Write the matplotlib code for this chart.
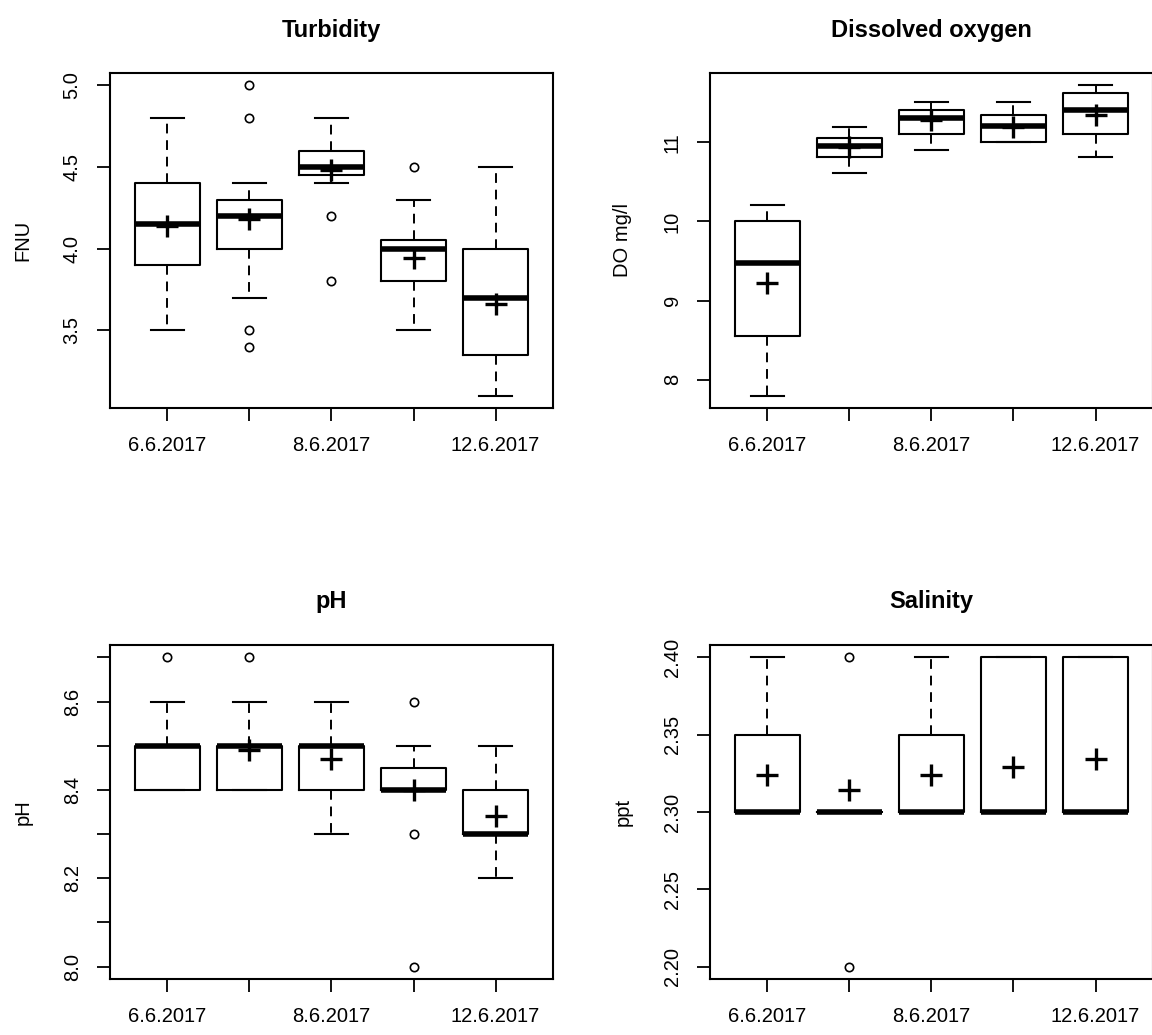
import numpy as np
import matplotlib.pyplot as plt

plt.rcParams['font.family'] = ['Liberation Sans', 'DejaVu Sans']

# only every other date label fits under the boxes
dates = ['6.6.2017', '', '8.6.2017', '', '12.6.2017']

turb_lo = [3.5, 3.7, 4.4, 3.5, 3.1]
turb_q1 = [3.9, 4.0, 4.45, 3.8, 3.35]
turb_med = [4.15, 4.2, 4.5, 4.0, 3.7]
turb_q3 = [4.4, 4.3, 4.6, 4.05, 4.0]
turb_hi = [4.8, 4.4, 4.8, 4.3, 4.5]
turb_mean = [4.14, 4.18, 4.48, 3.94, 3.66]
turb_out = [[], [5.0, 4.8, 3.5, 3.4], [4.2, 3.8], [4.5], []]

do_lo = [7.8, 10.61, 10.9, 11.0, 10.82]
do_q1 = [8.55, 10.82, 11.1, 11.0, 11.1]
do_med = [9.47, 10.96, 11.31, 11.21, 11.41]
do_q3 = [10.0, 11.06, 11.41, 11.35, 11.62]
do_hi = [10.21, 11.2, 11.51, 11.51, 11.72]
do_mean = [9.22, 10.945, 11.28, 11.2, 11.35]
do_out = [[], [], [], [], []]

ph_lo = [8.4, 8.4, 8.3, 8.4, 8.2]
ph_q1 = [8.4, 8.4, 8.4, 8.4, 8.3]
ph_med = [8.5, 8.5, 8.5, 8.4, 8.3]
ph_q3 = [8.5, 8.5, 8.5, 8.45, 8.4]
ph_hi = [8.6, 8.6, 8.6, 8.5, 8.5]
ph_mean = [np.nan, 8.49, 8.47, 8.4, 8.342]
ph_out = [[8.7], [8.7], [], [8.6, 8.3, 8.0], []]

sal_lo = [2.3, 2.3, 2.3, 2.3, 2.3]
sal_q1 = [2.3, 2.3, 2.3, 2.3, 2.3]
sal_med = [2.3, 2.3, 2.3, 2.3, 2.3]
sal_q3 = [2.35, 2.3, 2.35, 2.4, 2.4]
sal_hi = [2.4, 2.3, 2.4, 2.4, 2.4]
sal_mean = [2.324, 2.314, 2.324, 2.329, 2.334]
sal_out = [[], [2.4, 2.2], [], [], []]

turb_ticks = [3.5, 4.0, 4.5, 5.0]
turb_labels = ['3.5', '4.0', '4.5', '5.0']
do_ticks = [8, 9, 10, 11]
do_labels = ['8', '9', '10', '11']
ph_ticks = [8.0, 8.1, 8.2, 8.3, 8.4, 8.5, 8.6, 8.7]
ph_labels = ['8.0', '', '8.2', '', '8.4', '', '8.6', '']
sal_ticks = [2.20, 2.25, 2.30, 2.35, 2.40]
sal_labels = ['2.20', '2.25', '2.30', '2.35', '2.40']


def panel(ax, lo, q1, med, q3, hi, means, out, title, ylab, yticks, ylabels, tpad):
    pos = np.arange(1, len(med) + 1)
    stats = []
    for i in range(len(med)):
        stats.append(dict(whislo=lo[i], q1=q1[i], med=med[i], q3=q3[i],
                          whishi=hi[i], fliers=out[i]))
    ax.bxp(stats, positions=pos, widths=0.8, capwidths=0.4,
           boxprops=dict(color='black', linewidth=1.5),
           whiskerprops=dict(color='black', linewidth=1.4, linestyle=(0, (5, 3.5))),
           capprops=dict(color='black', linewidth=1.5),
           medianprops=dict(color='black', linewidth=4, solid_capstyle='butt'),
           flierprops=dict(marker='o', markerfacecolor='none', markeredgecolor='black',
                           markersize=6, markeredgewidth=1.2, linestyle='none'))
    ax.plot(pos, means, linestyle='none', marker='+', color='black',
            markersize=16, markeredgewidth=2.4, zorder=5)

    vals = list(lo) + list(hi) + [v for o in out for v in o]
    mn, mx = min(vals), max(vals)
    ext = 0.04 * (mx - mn)
    ax.set_ylim(mn - ext, mx + ext)
    ax.set_xlim(0.3, len(med) + 0.7)

    ax.set_xticks(pos)
    ax.set_xticklabels(dates)
    ax.set_yticks(yticks)
    ax.set_yticklabels(ylabels, rotation=90, va='center')
    ax.tick_params(length=9.4, width=1.3, labelsize=14.5, pad=11)
    for s in ax.spines.values():
        s.set_linewidth(1.5)

    ax.set_title(title, fontsize=17, fontweight='bold', pad=tpad)
    ax.set_ylabel(ylab, fontsize=14.5)
    ax.yaxis.set_label_coords(-0.175, 0.5)


fig = plt.figure(figsize=(11.52, 10.35), dpi=100)

w = 0.3845
ax1 = fig.add_axes([0.0955, 0.6058, w, 0.3237])
ax2 = fig.add_axes([0.6163, 0.6058, w, 0.3237])
ax3 = fig.add_axes([0.0955, 0.0541, w, 0.3227])
ax4 = fig.add_axes([0.6163, 0.0541, w, 0.3227])

panel(ax1, turb_lo, turb_q1, turb_med, turb_q3, turb_hi, turb_mean, turb_out,
      'Turbidity', 'FNU', turb_ticks, turb_labels, 26)
panel(ax2, do_lo, do_q1, do_med, do_q3, do_hi, do_mean, do_out,
      'Dissolved oxygen', 'DO mg/l', do_ticks, do_labels, 26)
panel(ax3, ph_lo, ph_q1, ph_med, ph_q3, ph_hi, ph_mean, ph_out,
      'pH', 'pH', ph_ticks, ph_labels, 27)
panel(ax4, sal_lo, sal_q1, sal_med, sal_q3, sal_hi, sal_mean, sal_out,
      'Salinity', 'ppt', sal_ticks, sal_labels, 27)

fig.savefig('out.png', dpi=100)
